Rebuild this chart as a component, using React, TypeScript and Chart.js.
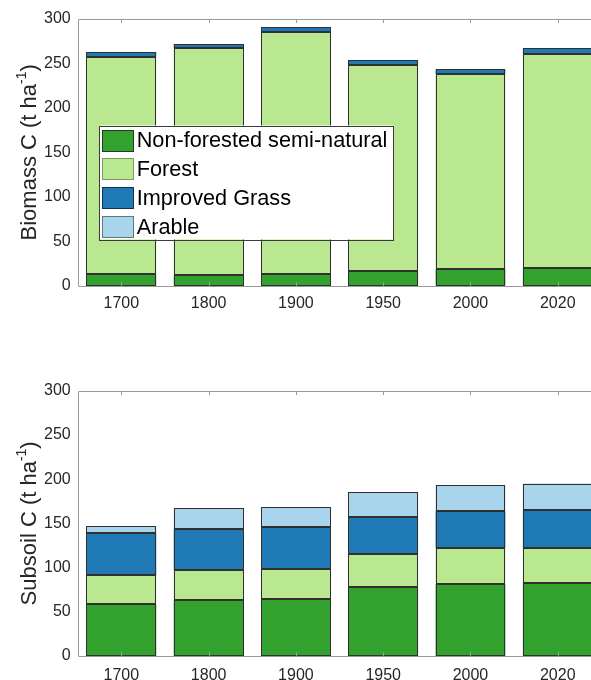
import React, { useEffect, useRef } from "react";
import { Chart, registerables } from "chart.js";

Chart.register(...registerables);

// ---------- data ----------
const years = ["1700", "1800", "1900", "1950", "2000", "2020"];
const seriesNames = ["Non-forested semi-natural", "Forest", "Improved Grass", "Arable"];
const seriesColors = ["#33a12d", "#bae890", "#1f79b5", "#a9d5ec"];
const swatchBorders = ["#1e3d1a", "#7c9a62", "#10344f", "#5f7684"];

const biomassNonForested = [13, 12, 13, 17, 19, 20];
const biomassForest = [244.5, 255, 272.5, 231.5, 219, 241];
const biomassImprovedGrass = [5, 5, 5, 5, 5.5, 6];
const biomassArable = [0, 0, 0, 0, 0, 0];

const subsoilNonForested = [58.5, 63.5, 65, 78, 81.5, 82.5];
const subsoilForest = [33, 34, 33.5, 37.5, 40.5, 40];
const subsoilImprovedGrass = [47.5, 46.5, 47, 41.5, 42, 42.5];
const subsoilArable = [7.5, 23, 22.5, 28, 29.5, 30];

const yTickStep = 50;
const yMin = 0;
const yMax = 300;

const FONT = "'Liberation Sans', Arial, Helvetica, sans-serif";
const TEXT = "#262626";

// ---------- plugins ----------
// crisp bar edges, drawn from the library's own bar elements
const barEdgePlugin = {
  id: "barEdges",
  afterDatasetsDraw(chart: any) {
    const { ctx } = chart;
    ctx.save();
    ctx.strokeStyle = "#303030";
    ctx.lineWidth = 1;
    chart.data.datasets.forEach((_d: any, di: number) => {
      const meta = chart.getDatasetMeta(di);
      meta.data.forEach((bar: any) => {
        const p = bar.getProps(["x", "y", "base", "width"], true);
        const top = Math.min(p.y, p.base);
        const bottom = Math.max(p.y, p.base);
        if (bottom - top < 0.01) return;
        const l = Math.round(p.x - p.width / 2) + 0.5;
        const r = Math.round(p.x + p.width / 2) - 0.5;
        const t = Math.round(top) + 0.5;
        const b = Math.round(bottom) - 0.5;
        ctx.strokeRect(l, t, r - l, b - t);
      });
    });
    ctx.restore();
  },
};

const framePlugin = {
  id: "matlabFrame",
  afterDatasetsDraw(chart: any) {
    const { ctx, chartArea } = chart;
    const { left, right, top, bottom } = chartArea;
    const xs = chart.scales.x;
    ctx.save();
    ctx.strokeStyle = "#9a9a9a";
    ctx.lineWidth = 1;
    ctx.beginPath();
    ctx.moveTo(Math.round(left) + 0.5, Math.round(bottom) + 0.5);
    ctx.lineTo(Math.round(left) + 0.5, Math.round(top) + 0.5);
    ctx.lineTo(Math.round(right) + 0.5, Math.round(top) + 0.5);
    ctx.lineTo(Math.round(right) + 0.5, Math.round(bottom) + 0.5);
    ctx.closePath();
    ctx.stroke();
    for (let i = 0; i < chart.data.labels.length; i++) {
      const x = Math.round(xs.getPixelForValue(i)) + 0.5;
      ctx.beginPath();
      ctx.moveTo(x, Math.round(top));
      ctx.lineTo(x, Math.round(top) + 4);
      ctx.moveTo(x, Math.round(bottom));
      ctx.lineTo(x, Math.round(bottom) - 4);
      ctx.stroke();
    }
    ctx.restore();
  },
};

const yTitlePlugin = {
  id: "yTitleSup",
  afterDraw(chart: any, _args: any, opts: any) {
    const { ctx, chartArea } = chart;
    const main = opts.text as string;
    const sup = "-1";
    const tail = ")";
    const size = 22;
    const supSize = 14;
    ctx.save();
    ctx.fillStyle = TEXT;
    ctx.textBaseline = "alphabetic";
    ctx.textAlign = "left";
    ctx.font = `${size}px ${FONT}`;
    const w1 = ctx.measureText(main).width;
    const w3 = ctx.measureText(tail).width;
    ctx.font = `${supSize}px ${FONT}`;
    const w2 = ctx.measureText(sup).width;
    const total = w1 + w2 + w3;
    const cy = (chartArea.top + chartArea.bottom) / 2;
    const baseX = opts.x as number;
    ctx.translate(baseX, cy);
    ctx.rotate(-Math.PI / 2);
    let x = -total / 2;
    ctx.font = `${size}px ${FONT}`;
    ctx.fillText(main, x, 0);
    x += w1;
    ctx.font = `${supSize}px ${FONT}`;
    ctx.fillText(sup, x, -10);
    x += w2;
    ctx.font = `${size}px ${FONT}`;
    ctx.fillText(tail, x, 0);
    ctx.restore();
  },
};

const legendPlugin = {
  id: "insetLegend",
  afterDraw(chart: any, _args: any, opts: any) {
    if (!opts || !opts.show) return;
    const { ctx, chartArea } = chart;
    const bx = chartArea.left + 21.5;
    const by = chartArea.top + 106.5;
    const bw = 294;
    const bh = 114;
    ctx.save();
    ctx.fillStyle = "#ffffff";
    ctx.fillRect(bx, by, bw, bh);
    ctx.strokeStyle = "#3a3a3a";
    ctx.lineWidth = 1;
    ctx.strokeRect(Math.round(bx) + 0.5, Math.round(by) + 0.5, bw, bh);
    ctx.font = `21.7px ${FONT}`;
    ctx.textBaseline = "middle";
    ctx.textAlign = "left";
    const ds = chart.data.datasets;
    for (let i = 0; i < ds.length; i++) {
      const cy = by + 15 + i * 28.7;
      const sx = Math.round(bx) + 3;
      const sy = Math.round(cy - 11);
      ctx.fillStyle = ds[i].backgroundColor;
      ctx.fillRect(sx, sy, 32, 22);
      ctx.strokeStyle = swatchBorders[i];
      ctx.strokeRect(sx + 0.5, sy + 0.5, 31, 21);
      ctx.fillStyle = "#000000";
      ctx.fillText(ds[i].label, bx + 37.5, cy + 1);
    }
    ctx.restore();
  },
};

// ---------- chart builder ----------
function buildConfig(
  values: number[][],
  title: string,
  showLegend: boolean,
  padTop: number,
  xAxisHeight: number,
  tickPad: number
) {
  return {
    type: "bar" as const,
    data: {
      labels: years,
      datasets: seriesNames.map((name, i) => ({
        label: name,
        data: values[i],
        backgroundColor: seriesColors[i],
        borderWidth: 0,
        categoryPercentage: 1.0,
        barPercentage: 0.8,
      })),
    },
    options: {
      responsive: false,
      animation: false,
      layout: { padding: { top: padTop, left: 0, right: 18.6, bottom: 0 } },
      plugins: {
        legend: { display: false },
        tooltip: { enabled: false },
        title: { display: false },
        yTitleSup: { text: title, x: 36 },
        insetLegend: { show: showLegend },
      },
      scales: {
        x: {
          stacked: true,
          grid: { display: false, drawTicks: false },
          border: { display: false },
          ticks: {
            color: TEXT,
            font: { family: FONT, size: 16 },
            padding: tickPad,
            maxRotation: 0,
          },
          afterFit(scale: any) {
            scale.height = xAxisHeight;
          },
        },
        y: {
          stacked: true,
          min: yMin,
          max: yMax,
          grid: { display: false, drawTicks: false },
          border: { display: false },
          ticks: {
            stepSize: yTickStep,
            color: TEXT,
            font: { family: FONT, size: 16 },
            padding: 7,
          },
          afterFit(scale: any) {
            scale.width = 77.7;
          },
        },
      },
    },
    plugins: [barEdgePlugin, framePlugin, yTitlePlugin, legendPlugin],
  };
}

function BarPanel(props: {
  values: number[][];
  title: string;
  showLegend: boolean;
  padTop: number;
  xAxisHeight: number;
  tickPad: number;
}) {
  const ref = useRef<HTMLCanvasElement | null>(null);
  useEffect(() => {
    if (!ref.current) return;
    const chart = new Chart(
      ref.current,
      buildConfig(
        props.values,
        props.title,
        props.showLegend,
        props.padTop,
        props.xAxisHeight,
        props.tickPad
      ) as any
    );
    return () => chart.destroy();
  }, []);
  return (
    <canvas
      ref={ref}
      width={620}
      height={340}
      style={{ display: "block", width: 620, height: 340 }}
    />
  );
}

export default function App() {
  return (
    <div
      style={{
        position: "absolute",
        left: 0,
        top: 0,
        width: 620,
        height: 680,
        background: "#ffffff",
      }}
    >
      <BarPanel
        values={[biomassNonForested, biomassForest, biomassImprovedGrass, biomassArable]}
        title="Biomass C (t ha"
        showLegend={true}
        padTop={19}
        xAxisHeight={54.3}
        tickPad={8}
      />
      <BarPanel
        values={[subsoilNonForested, subsoilForest, subsoilImprovedGrass, subsoilArable]}
        title="Subsoil C (t ha"
        showLegend={false}
        padTop={50.7}
        xAxisHeight={24}
        tickPad={10}
      />
    </div>
  );
}
